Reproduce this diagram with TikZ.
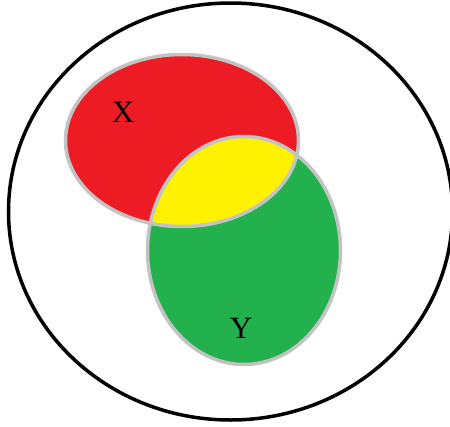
\documentclass[tikz,border=0pt]{standalone}
\usepackage{fontspec}
\setmainfont{Liberation Serif}
\definecolor{setred}{HTML}{ED1C24}
\definecolor{setgreen}{HTML}{22B14C}
\definecolor{setyellow}{HTML}{FFF200}
\definecolor{setgray}{HTML}{C3C3C3}

\begin{document}
\begin{tikzpicture}[
    x=1pt, y=-1pt,
    every node/.style={font=\fontsize{31}{31}\selectfont},
    setline/.style={draw=setgray, line width=3.5pt},
    universe/.style={draw=black, line width=3.5pt}
]
\useasboundingbox (0,0) rectangle (450,426);

% ===== UNIVERSE =====
\draw[universe] (230.5,211.5) ellipse [x radius=222, y radius=208.5];

% ===== SET X (red) and SET Y (green) =====
\fill[setred] (182,140.5) ellipse [x radius=116.5, y radius=86];
\fill[setgreen] (244,250.5) ellipse [x radius=96.5, y radius=114];

% --- Intersection ---
\begin{scope}
    \clip (182,140.5) ellipse [x radius=116.5, y radius=86];
    \fill[setyellow] (244,250.5) ellipse [x radius=96.5, y radius=114];
\end{scope}

% --- Outlines ---
\draw[setline] (182,140.5) ellipse [x radius=116.5, y radius=86];
\draw[setline] (244,250.5) ellipse [x radius=96.5, y radius=114];

% --- Labels ---
\node (labelX) at (123,112.5) {X};
\node (labelY) at (241,328) {Y};

\end{tikzpicture}
\end{document}
